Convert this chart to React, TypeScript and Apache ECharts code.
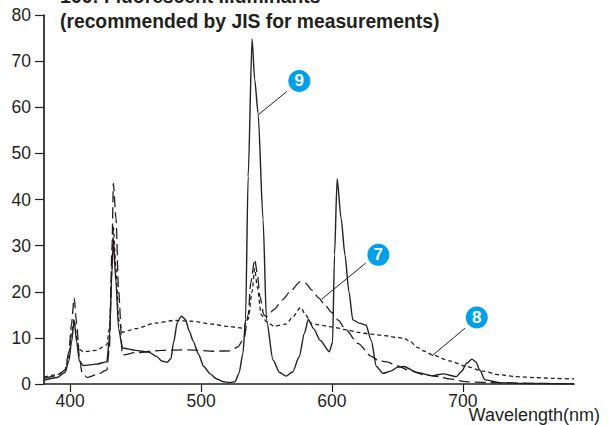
import React, { useEffect, useRef } from "react";
import * as echarts from "echarts";

// ---- data ----
const xTicks = [400, 500, 600, 700];

// Illuminant 9 (solid)
const f9Wl = [380,390,396,399,401,403,405,407,410,420,428,430,432,433,435,437,440,450,460,466,470,474,477,479,482,485,488,491,494,498,502,507,512,517,522,526,529,532,534,536,539,541,543.6,547.4,550,555,560,565,570,575,579,582,586,591,598,600.5,602,604,607,610,613,616,621,626,630,634,639,645,650,655,665,677,685,695,699,703,707,710,713,717,728,750,785];
const f9Val = [0.8,1.4,2.5,5,9,13.8,9,5,4.0,4.3,4.8,10,25,31.5,22,12,7.8,7.3,6.9,6.0,5.0,4.7,5.5,9,13.5,14.7,14,11.5,9.3,6.5,3.8,2.2,1.1,0.5,0.3,0.5,2.3,6.6,14,45,74.8,66,58.7,35.6,13.9,5.2,2.5,1.7,2.6,5.9,11,14,12,9.5,7.0,9,28,44.5,36,28,20,13.9,13.2,12.8,9.5,3.8,2.3,2.8,3.6,3.8,2.5,1.8,2.2,1.6,2.7,4.5,5.4,4.8,3.0,0.9,0.3,0.1,0];

// Illuminant 7 (long dash)
const f7Wl = [380,390,396,399,401,403,405,407,409,413,420,428,430,432,433,435,437,440,450,470,490,510,522,528,533,536,538,541,543,545,548,550,556,562,569,575.7,580,585,590,595,600,605,610,620,630,636,642,650,660,670,682,690,702,720,750,785];
const f7Val = [1.2,1.8,3,7,13,18.7,13,6,2.5,1.4,2.0,3.0,8,30,43.5,36,20,6.3,6.8,7.3,7.4,7.1,7.2,8.0,10,15,22,27,24,19,15,14.6,16.2,18.2,20.3,22.2,21.8,20.3,18.6,17.0,15.5,13.8,12,8.8,6.0,5.0,4.8,3.9,2.9,2.0,1.6,1.1,0.5,0.3,0.15,0.05];

// Illuminant 8 (short dash)
const f8Wl = [380,390,396,399,401,403,405,407,410,420,428,430,432,433,435,437,440,450,465,480,493,508,520,532,536,539,541,543,546,550,556,565,570,576,580,584,590,600,610,620,630,640,650,655,660,665,670,677,690,703,715,728,740,755,770,785];
const f8Val = [1.5,2.0,3,6,11,14,10,7.5,7.0,7.3,8.5,12,25,34,25,14,11.2,12.0,13.2,13.8,13.6,13.0,12.5,12.1,14,20,25,21,15,13.5,12.5,13.0,14.5,16.6,15,13.2,12.8,12.4,11.8,11.2,10.8,10.5,10.1,9.9,9.2,8.0,7.2,6.3,5.0,3.8,2.8,2.0,1.6,1.4,1.2,1.1];

// callouts: label, circle centre, leader start and end, in data units
const calloutLabels = ["9", "7", "8"];
const calloutCircle = [[575.1, 65.7], [635.5, 28.0], [710.7, 14.4]];
const calloutLeaderFrom = [[565.5, 63.4], [625.8, 26.2], [701.7, 12.1]];
const calloutLeaderTo = [[544.3, 58.5], [592.2, 18.4], [676.5, 6.1]];

const INK = "#231f20";
const FONT = '"Liberation Sans", Arial, Helvetica, sans-serif';

const pairs = (xs: number[], ys: number[]) => xs.map((x, i) => [x, ys[i]]);

export default function App() {
  const ref = useRef<HTMLDivElement>(null);
  useEffect(() => {
    if (!ref.current) return;
    const chart = echarts.init(ref.current, undefined, { renderer: "svg" });
    const lineBase = {
      type: "line" as const,
      showSymbol: false,
      symbol: "none",
      smooth: 0.25,
      smoothMonotone: "x" as const,
      silent: true,
    };
    chart.setOption({
      animation: false,
      grid: { left: 44, top: 15, width: 530, height: 369, containLabel: false },
      xAxis: {
        type: "value",
        min: 380,
        max: 785,
        splitLine: { show: false },
        axisLine: { show: true, onZero: false, lineStyle: { color: INK, width: 1.7 } },
        axisTick: { show: true, inside: false, length: 8, customValues: xTicks, lineStyle: { color: INK, width: 1.2 } },
        axisLabel: { customValues: xTicks, color: INK, fontSize: 17.5, fontFamily: FONT, margin: 8 },
      },
      yAxis: {
        type: "value",
        min: 0,
        max: 80,
        interval: 10,
        splitLine: { show: false },
        axisLine: { show: true, lineStyle: { color: INK, width: 1.7 } },
        axisTick: { show: true, inside: false, length: 9, lineStyle: { color: INK, width: 1.2 } },
        axisLabel: { color: INK, fontSize: 17.5, fontFamily: FONT, margin: 13 },
      },
      series: [
        {
          ...lineBase,
          name: "7",
          data: pairs(f7Wl, f7Val),
          lineStyle: { color: INK, width: 1.3, type: [11, 5] },
          z: 2,
        },
        {
          ...lineBase,
          name: "8",
          data: pairs(f8Wl, f8Val),
          lineStyle: { color: INK, width: 1.3, type: [4, 3] },
          z: 2,
        },
        {
          ...lineBase,
          name: "9",
          data: pairs(f9Wl, f9Val),
          lineStyle: { color: INK, width: 1.4, type: "solid" },
          z: 3,
          markLine: {
            silent: true,
            symbol: ["none", "none"],
            label: { show: false },
            lineStyle: { color: INK, width: 1, type: "solid" },
            data: calloutLabels.map((_, i) => [
              { coord: calloutLeaderFrom[i] },
              { coord: calloutLeaderTo[i] },
            ]),
          },
          markPoint: {
            silent: true,
            symbol: "circle",
            symbolSize: 22,
            itemStyle: { color: "#00a0e9" },
            label: {
              show: true,
              position: "inside",
              color: "#ffffff",
              fontWeight: "bold",
              fontSize: 17,
              fontFamily: FONT,
              formatter: (p: any) => p.name,
            },
            data: calloutLabels.map((lab, i) => ({ name: lab, coord: calloutCircle[i] })),
          },
        },
      ],
      graphic: [
        {
          type: "text",
          x: 60,
          y: -3.5,
          silent: true,
          style: {
            text: "166: Fluorescent Illuminants",
            font: `bold 19.3px ${FONT}`,
            fill: INK,
            textAlign: "left",
            textVerticalAlign: "middle",
          },
        },
        {
          type: "text",
          x: 60,
          y: 21.5,
          silent: true,
          style: {
            text: "(recommended by JIS for measurements)",
            font: `bold 19.3px ${FONT}`,
            fill: INK,
            textAlign: "left",
            textVerticalAlign: "middle",
          },
        },
        {
          type: "text",
          x: 600,
          y: 415,
          silent: true,
          style: {
            text: "Wavelength(nm)",
            font: `18px ${FONT}`,
            fill: INK,
            textAlign: "right",
            textVerticalAlign: "middle",
          },
        },
      ],
    });
    return () => chart.dispose();
  }, []);
  return (
    <div
      ref={ref}
      style={{ position: "fixed", left: 0, top: 0, width: 615, height: 425, background: "#fff" }}
    />
  );
}
